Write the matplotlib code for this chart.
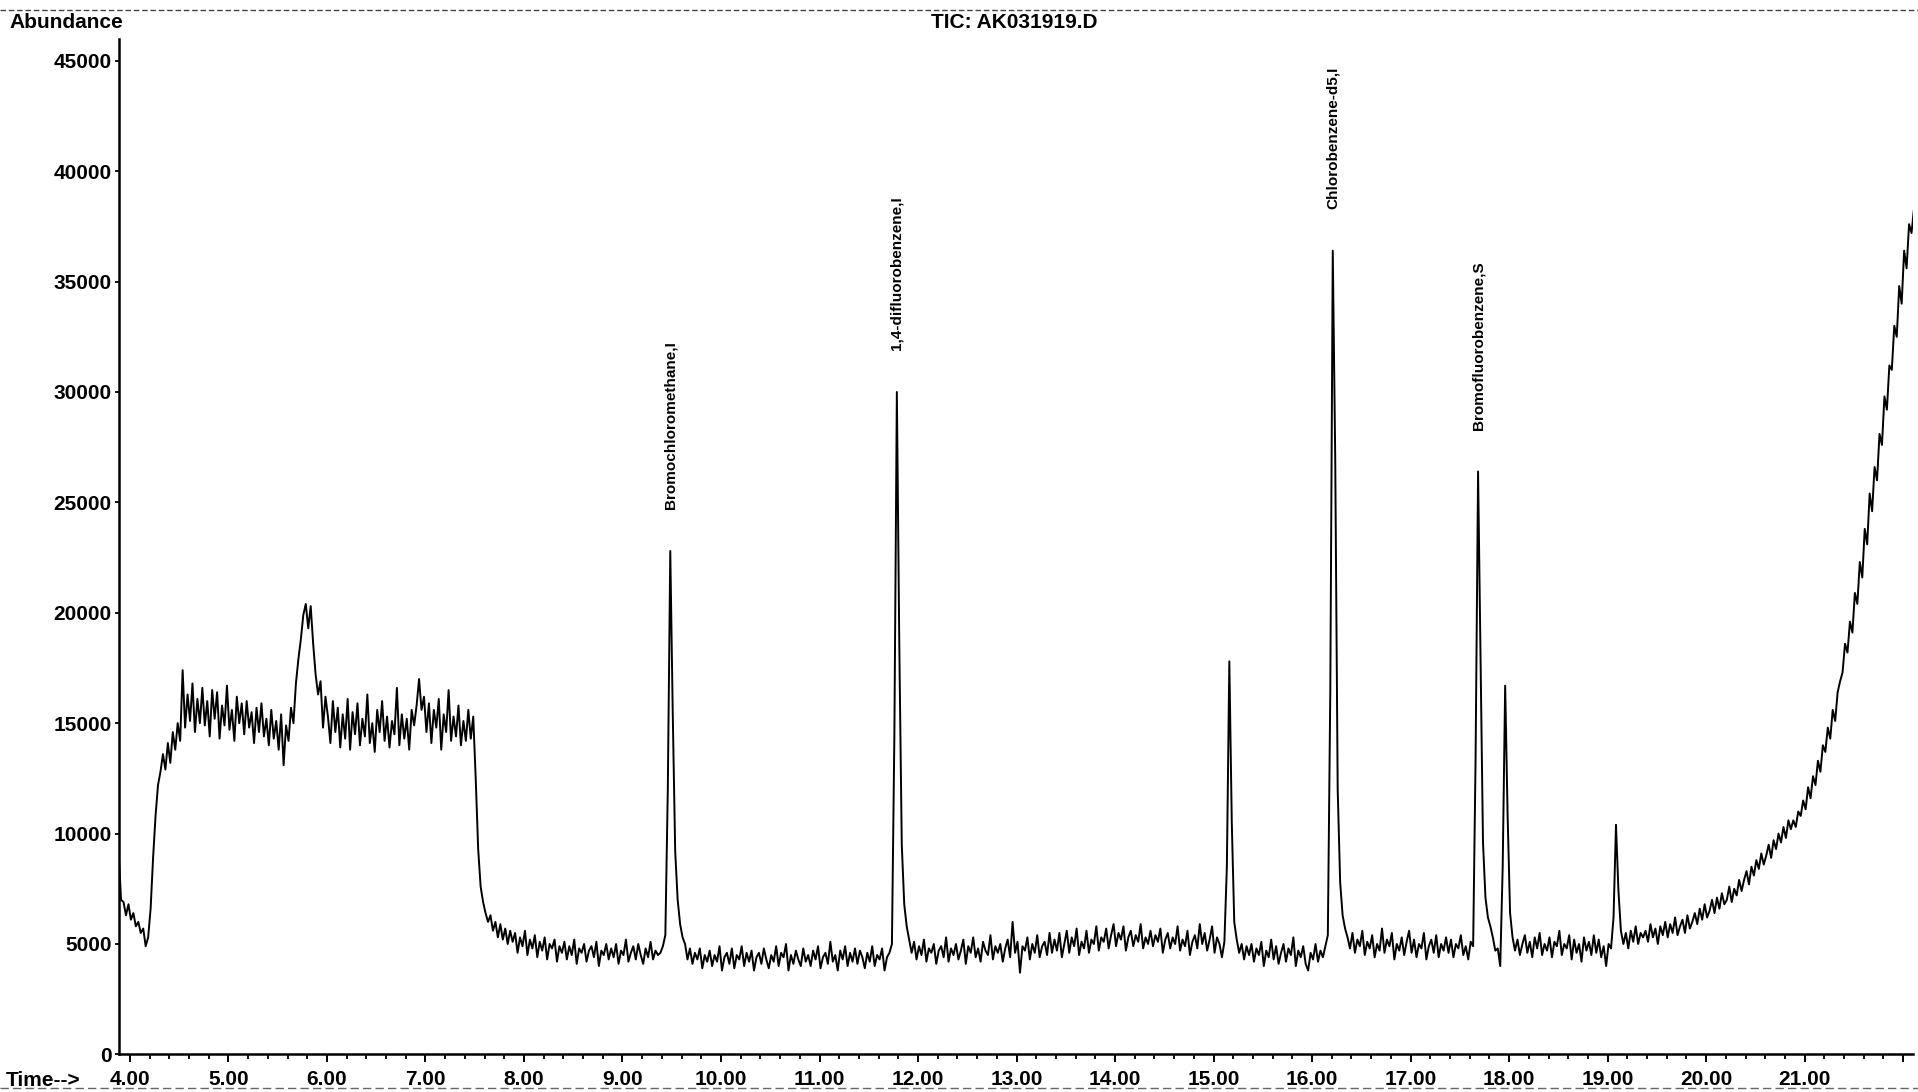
import numpy as np
import matplotlib.pyplot as plt
from matplotlib.lines import Line2D
from matplotlib.ticker import MultipleLocator

plt.rcParams['font.family'] = ['Liberation Sans', 'DejaVu Sans']
plt.rcParams['font.weight'] = 'bold'

# 스캔 시작 시간과 간격 (분)
t_start = 3.885
t_step = 0.025

# TIC 값 (단위: 1000), 한 줄 = 0.5분
abundance_k = [
    9.2, 7.0, 6.9, 6.3, 6.8, 6.1, 6.4, 5.8, 6.0, 5.5, 5.7, 4.9, 5.3, 6.6, 8.9, 10.8, 12.2, 12.8, 13.6, 12.9,
    14.1, 13.2, 14.6, 13.8, 15.0, 14.2, 17.4, 14.8, 16.3, 15.1, 16.8, 14.6, 16.1, 15.0, 16.6, 14.9, 16.0, 14.4, 16.5, 15.2,
    16.4, 14.3, 15.8, 14.9, 16.7, 14.7, 15.6, 14.2, 16.2, 15.0, 15.9, 14.5, 16.0, 14.8, 15.5, 14.1, 15.7, 14.6, 15.9, 14.4,
    15.2, 14.0, 15.6, 14.3, 15.1, 13.8, 15.4, 13.1, 14.9, 14.2, 15.7, 15.0, 16.8, 17.9, 18.8, 19.9, 20.4, 19.3, 20.3, 18.6,
    17.2, 16.3, 16.9, 14.8, 16.2, 15.3, 14.1, 16.0, 14.6, 15.7, 13.9, 15.4, 14.3, 16.1, 13.8, 15.5, 14.5, 15.9, 14.0, 15.2,
    14.4, 16.3, 14.1, 15.0, 13.7, 15.6, 14.6, 16.0, 14.2, 15.3, 13.9, 15.1, 14.5, 16.6, 14.0, 15.4, 14.3, 15.2, 13.8, 15.6,
    14.9, 15.8, 17.0, 15.6, 16.2, 14.6, 15.9, 14.1, 15.6, 14.8, 16.1, 13.8, 15.4, 14.6, 16.5, 14.2, 15.3, 14.4, 15.8, 14.0,
    15.1, 14.2, 15.6, 14.3, 15.3, 12.5, 9.3, 7.6, 6.9, 6.4, 6.0, 6.3, 5.6, 6.0, 5.3, 5.9, 5.2, 5.7, 5.0, 5.6,
    5.1, 5.5, 4.6, 5.3, 4.9, 5.6, 4.5, 5.2, 4.8, 5.4, 4.4, 5.1, 4.7, 5.3, 4.3, 5.0, 4.8, 5.2, 4.2, 4.9,
    4.6, 5.1, 4.3, 4.9, 4.5, 5.2, 4.1, 4.8, 4.6, 5.0, 4.2, 4.7, 4.9, 4.4, 5.1, 4.0, 4.7, 4.5, 5.0, 4.3,
    4.8, 4.4, 5.0, 4.1, 4.7, 4.5, 5.2, 4.2, 4.6, 4.9, 4.3, 5.0, 4.5, 4.1, 4.8, 4.4, 5.1, 4.3, 4.7, 4.5,
    4.6, 4.9, 5.4, 12.0, 22.8, 15.5, 9.2, 7.0, 5.9, 5.3, 5.0, 4.3, 4.8, 4.1, 4.6, 4.3, 4.8, 3.9, 4.5, 4.2,
    4.7, 4.0, 4.5, 4.2, 4.9, 3.8, 4.4, 4.6, 4.1, 4.8, 3.9, 4.5, 4.3, 4.9, 4.0, 4.6, 4.2, 4.7, 3.8, 4.4,
    4.6, 4.1, 4.8, 4.3, 3.9, 4.5, 4.2, 4.9, 4.0, 4.6, 4.4, 5.0, 3.8, 4.5, 4.1, 4.7, 4.3, 4.0, 4.8, 4.2,
    4.5, 4.0, 4.7, 4.3, 4.9, 3.9, 4.4, 4.6, 4.1, 5.1, 4.2, 4.5, 3.8, 4.7, 4.3, 4.9, 4.0, 4.6, 4.2, 4.8,
    4.1, 4.7, 4.4, 3.9, 4.6, 4.2, 4.9, 4.0, 4.5, 4.3, 4.8, 3.8, 4.4, 4.6, 5.0, 14.5, 30.0, 18.5, 9.5, 6.8,
    5.8, 5.2, 4.6, 5.1, 4.3, 4.9, 4.5, 5.2, 4.2, 4.8, 4.6, 5.0, 4.1, 4.7, 4.9, 4.4, 5.3, 4.2, 4.8, 4.5,
    5.0, 4.3, 4.7, 5.2, 4.1, 4.9, 4.6, 5.3, 4.4, 4.8, 4.2, 5.1, 4.7, 4.5, 5.4, 4.3, 4.9, 4.6, 5.0, 4.2,
    4.8, 5.2, 4.4, 6.0, 4.6, 5.1, 3.7, 4.9, 4.7, 5.3, 4.3, 5.0, 4.6, 5.4, 4.4, 4.9, 5.1, 4.5, 5.5, 4.6,
    5.2, 4.7, 5.5, 4.4, 5.0, 5.6, 4.6, 5.3, 4.9, 5.7, 4.5, 5.1, 4.8, 5.6, 4.6, 5.2, 5.0, 5.8, 4.7, 5.3,
    5.1, 5.7, 4.8, 5.4, 5.9, 4.9, 5.5, 5.2, 5.8, 4.7, 5.3, 5.6, 4.9, 5.4, 5.1, 5.9, 4.8, 5.3, 5.0, 5.6,
    4.9, 5.4, 5.1, 5.7, 4.6, 5.2, 5.5, 4.8, 5.3, 5.0, 5.8, 4.7, 5.2, 4.9, 5.6, 4.5, 5.1, 5.4, 4.8, 5.9,
    5.0, 5.5, 4.7, 5.2, 5.8, 4.6, 5.3, 5.0, 4.4, 5.1, 8.5, 17.8, 10.5, 6.0, 5.2, 4.6, 5.0, 4.3, 4.9, 4.5,
    5.0, 4.2, 4.8, 4.5, 5.1, 4.0, 4.7, 4.4, 5.2, 4.3, 4.9, 4.1, 4.6, 5.0, 4.2, 4.8, 4.5, 5.3, 4.0, 4.7,
    4.4, 4.9, 4.1, 3.8, 4.6, 4.3, 5.0, 4.2, 4.7, 4.4, 4.9, 5.4, 16.5, 36.4, 27.0, 12.0, 7.8, 6.3, 5.7, 5.3,
    4.8, 5.5, 4.6, 5.2, 4.9, 5.6, 4.5, 5.1, 4.8, 5.4, 4.4, 5.0, 4.7, 5.7, 4.6, 5.2, 4.9, 5.5, 4.3, 5.0,
    4.7, 5.3, 4.5, 5.1, 5.6, 4.6, 5.2, 4.4, 5.0, 4.8, 5.5, 4.3, 4.9, 5.2, 4.6, 5.4, 4.4, 5.0, 4.7, 5.3,
    4.6, 5.2, 4.4, 5.0, 4.8, 5.4, 4.5, 4.9, 4.3, 5.1, 4.9, 13.5, 26.4, 18.0, 9.6, 7.1, 6.2, 5.8, 5.3, 4.7,
    4.8, 4.0, 8.5, 16.7, 10.8, 6.4, 5.3, 4.7, 5.2, 4.5, 5.0, 5.4, 4.6, 5.1, 4.4, 5.3, 4.8, 5.5, 4.5, 5.0,
    4.7, 5.3, 4.4, 5.1, 4.9, 5.6, 4.5, 5.0, 4.8, 5.4, 4.3, 5.2, 4.6, 5.0, 4.2, 5.3, 4.7, 5.1, 4.5, 5.4,
    4.6, 5.2, 4.4, 4.9, 4.0, 5.0, 4.8, 6.2, 10.4, 7.4, 5.6, 5.0, 5.5, 4.8, 5.6, 5.1, 5.8, 5.0, 5.5, 5.3,
    5.6, 5.1, 5.9, 5.3, 5.7, 5.0, 5.8, 5.4, 6.0, 5.3, 5.9, 5.5, 6.2, 5.4, 5.8, 6.1, 5.5, 6.3, 5.7, 6.0,
    6.4, 5.9, 6.6, 6.1, 6.8, 6.2, 6.5, 7.0, 6.4, 7.1, 6.6, 7.3, 6.8, 7.0, 7.6, 6.9, 7.5, 7.2, 7.9, 7.4,
    7.9, 8.3, 7.7, 8.5, 8.1, 8.8, 8.4, 9.1, 8.6, 9.0, 9.5, 8.9, 9.7, 9.3, 10.0, 9.6, 10.3, 9.8, 10.6, 10.2,
    10.6, 10.3, 11.0, 10.8, 11.5, 11.1, 12.1, 11.6, 12.6, 12.2, 13.3, 12.8, 14.0, 13.7, 14.8, 14.3, 15.6, 15.1, 16.4, 16.9,
    17.3, 18.6, 18.2, 19.6, 19.1, 20.9, 20.4, 22.3, 21.6, 23.8, 23.1, 25.4, 24.6, 26.6, 26.0, 28.1, 27.6, 29.8, 29.2, 31.2,
    31.0, 33.0, 32.5, 34.8, 34.0, 36.4, 35.6, 37.6, 37.2, 38.3,
]

# 피크 이름과 머무름 시간
peak_names = ['Bromochloromethane,I', '1,4-difluorobenzene,I',
              'Chlorobenzene-d5,I', 'Bromofluorobenzene,S']
peak_times = [9.485, 11.785, 16.21, 17.685]

x_ticks = list(range(4, 23))
y_ticks = list(range(0, 46000, 5000))

time = t_start + t_step * np.arange(len(abundance_k))
abundance = np.array(abundance_k) * 1000

W, H = 1918, 1092
fig = plt.figure(figsize=(W / 100, H / 100), dpi=100)
ax = fig.add_axes([118.6 / W, 37.6 / H, 1794.4 / W, 1015.7 / H])

ax.plot(time, abundance, color='black', lw=1.4)

ax.set_xlim(3.885, 22.1)
ax.set_ylim(0, 46000)

ax.set_xticks(x_ticks)
ax.set_xticklabels(['%.2f' % v if v < 22 else '' for v in x_ticks])
ax.xaxis.set_minor_locator(MultipleLocator(0.2))
ax.set_yticks(y_ticks)
ax.set_yticklabels([str(v) for v in y_ticks])

ax.tick_params(axis='x', which='major', direction='out', length=6, width=1.4,
               labelsize=15, pad=5)
ax.tick_params(axis='x', which='minor', direction='out', length=3.5, width=1.3)
ax.tick_params(axis='y', which='major', direction='out', length=3, width=1.3,
               labelsize=15, pad=2)

for s in ['top', 'right']:
    ax.spines[s].set_visible(False)
for s in ['left', 'bottom']:
    ax.spines[s].set_linewidth(1.8)

# 피크 라벨
for name, pt in zip(peak_names, peak_times):
    near = np.abs(time - pt) < 0.05
    top = abundance[near].max()
    ax.text(pt, top + 1900, name, rotation=90, ha='center', va='bottom',
            fontsize=11)

fig.text(9 / W, 1 - 23 / H, 'Abundance', fontsize=15, va='center', ha='left')
fig.text(1014 / W, 1 - 23 / H, 'TIC: AK031919.D', fontsize=15, va='center', ha='center')
fig.text(6 / W, 1 - 1081 / H, 'Time-->', fontsize=15, va='center', ha='left')

# 스캔 가장자리 선
fig.add_artist(Line2D([0, 1], [1 - 10 / H, 1 - 10 / H], transform=fig.transFigure,
                      color='#444444', lw=1.0, ls=(0, (4, 2))))
fig.add_artist(Line2D([0, 1], [1 - 1088 / H, 1 - 1088 / H], transform=fig.transFigure,
                      color='#666666', lw=1.0, ls=(0, (6, 3))))

fig.savefig('out.png', dpi=100)
